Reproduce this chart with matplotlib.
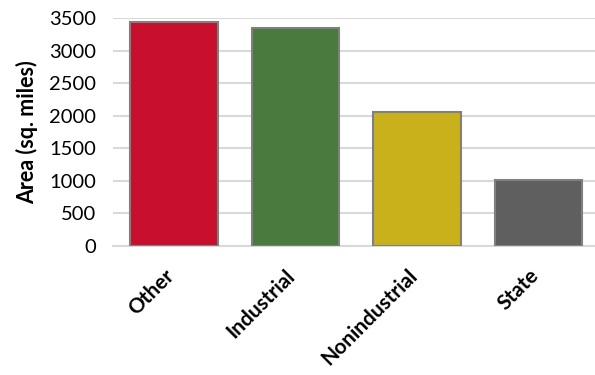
import matplotlib.pyplot as plt
from matplotlib.transforms import ScaledTranslation

categories = ['Other', 'Industrial', 'Nonindustrial', 'State']
areas = [3440, 3350, 2055, 1020]
colors = ['#c8102e', '#4a7a3c', '#c9b11c', '#5f5f5f']

plt.rcParams['font.family'] = ['Lato', 'DejaVu Sans']

fig = plt.figure(figsize=(5.95, 3.75), dpi=100)
ax = fig.add_axes([0.19, 0.344, 0.817, 0.608])

x = range(len(categories))
ax.bar(x, areas, width=0.72, color=colors, edgecolor='#808080', linewidth=1.5, zorder=3)

ax.set_xlim(-0.5, 3.5)
ax.set_ylim(0, 3500)
ax.set_yticks(range(0, 3501, 500))
ax.yaxis.grid(True, color='#d9d9d9', linewidth=1.5, zorder=0)
ax.set_axisbelow(True)
for s in ['top', 'right', 'left']:
    ax.spines[s].set_visible(False)
ax.spines['bottom'].set_color('#d9d9d9')
ax.spines['bottom'].set_linewidth(1.5)
ax.tick_params(axis='both', length=0, labelsize=14.5)
ax.tick_params(axis='y', pad=12)

ax.set_xticks(list(x))
ax.set_xticklabels(categories, rotation=45, ha='right', rotation_mode='anchor',
                   fontweight='bold', fontsize=15)
ax.tick_params(axis='x', pad=14)
off = ScaledTranslation(-10 / 100, 0, fig.dpi_scale_trans)
for lbl in ax.get_xticklabels():
    lbl.set_transform(lbl.get_transform() + off)
ax.set_ylabel('Area (sq. miles)', fontweight='bold', fontsize=15.5, labelpad=8)

fig.savefig('out.png', dpi=100)
